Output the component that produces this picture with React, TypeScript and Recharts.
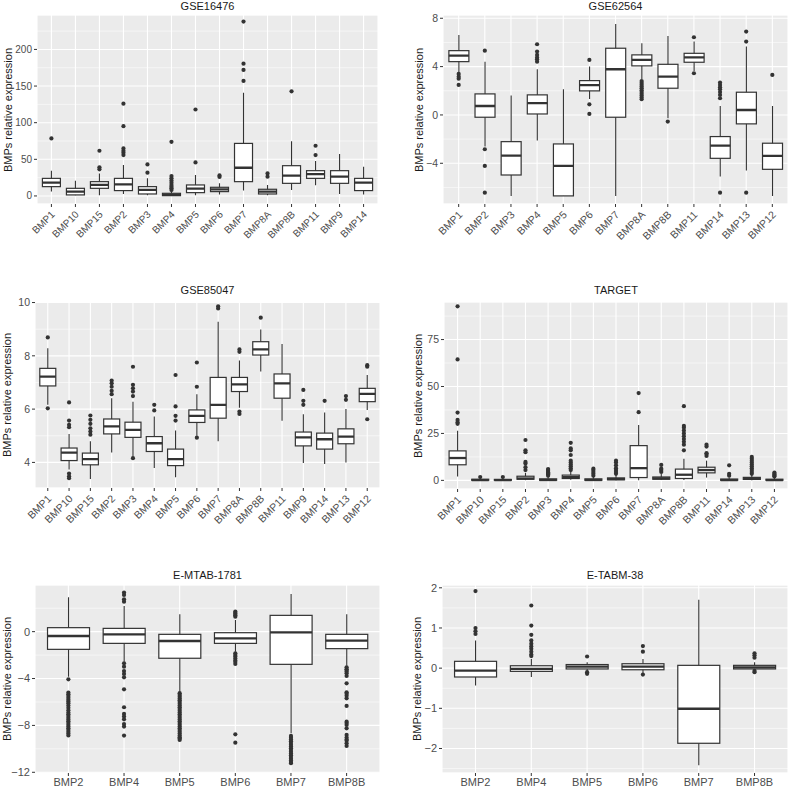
import { Bar, CartesianGrid, ComposedChart, Scatter, XAxis, YAxis } from 'recharts';

const INK = '#333333';
const TICK_TEXT = '#4D4D4D';
const PANEL_BG = '#EBEBEB';
const FONT = '"Liberation Sans", Arial, Helvetica, sans-serif';

// ---- GSE16476 ----
const GSE16476_GENES = ['BMP1', 'BMP10', 'BMP15', 'BMP2', 'BMP3', 'BMP4', 'BMP5', 'BMP6', 'BMP7', 'BMP8A', 'BMP8B', 'BMP11', 'BMP9', 'BMP14'];
const GSE16476_LOWER = [5.9, 0.9, 0.9, 2.7, 0.9, 0, 0.9, 1.8, 7.3, 1, 8.2, 14.5, 2.7, 1.8];
const GSE16476_Q1 = [12.7, 1.4, 10.4, 7.3, 2.7, 0.4, 4.5, 5.9, 19.5, 2.7, 17.2, 24, 17.2, 7.3];
const GSE16476_MEDIAN = [18.1, 5.9, 15, 15.9, 8.2, 1.4, 10, 9.1, 38.5, 5.9, 27.7, 29.9, 26.3, 18.1];
const GSE16476_Q3 = [24, 10.4, 19.5, 24, 12.7, 3.6, 15, 11.8, 71.7, 9.1, 41.3, 34.5, 34.5, 24];
const GSE16476_UPPER = [34.5, 20.9, 30.8, 42.2, 24, 5.9, 28.6, 17.2, 141, 15, 74.8, 47.6, 57.1, 39.9];
const GSE16476_OUTLIERS = [
  [78.5], [], [36.3, 39, 61.7], [55.8, 59, 61.7, 64.8, 95.2, 126], [31.7, 43],
  [8, 10.4, 12.5, 15, 18.1, 21, 24, 27.2, 73.9], [45.8, 118], [26, 28],
  [157, 172, 180.5, 238], [26.3, 30.8], [142.8], [55.8, 68.5], [], [],
];

// ---- GSE62564 ----
const GSE62564_GENES = ['BMP1', 'BMP2', 'BMP3', 'BMP4', 'BMP5', 'BMP6', 'BMP7', 'BMP8A', 'BMP8B', 'BMP11', 'BMP14', 'BMP13', 'BMP12'];
const GSE62564_LOWER = [3.53, -2.62, -6.7, -2.12, -6.7, 1.32, -6.7, 2.98, -0.28, 3.64, -5.1, -4.6, -6.7];
const GSE62564_Q1 = [4.41, -0.19, -4.97, 0.08, -6.7, 1.99, -0.19, 4.06, 2.21, 4.36, -3.59, -0.74, -4.5];
const GSE62564_MEDIAN = [4.9, 0.74, -3.37, 0.97, -4.22, 2.46, 3.78, 4.55, 3.17, 4.77, -2.54, 0.41, -3.39];
const GSE62564_Q3 = [5.32, 1.74, -2.21, 1.66, -2.4, 2.84, 5.52, 4.97, 4.19, 5.1, -1.79, 1.88, -2.34];
const GSE62564_UPPER = [6.62, 4.41, 1.6, 3.78, 2.12, 4.0, 7.53, 5.93, 6.54, 6.07, 0.74, 5.66, 0.74];
const GSE62564_OUTLIERS = [
  [2.48, 3.0, 3.17, 3.39], [5.32, -2.84, -4.22, -6.43], [], [4.41, 4.6, 4.75, 4.97, 5.24, 5.85], [],
  [4.55, 0.88, 0.08], [], [1.3, 1.45, 1.6, 1.75, 1.9, 2.05, 2.2, 2.35, 2.5, 2.65, 2.8], [-0.55],
  [6.43, 3.45], [1.38, 1.66, 1.9, 2.12, 2.29, 2.48, 2.68, -6.43], [6.07, 6.9, -6.43], [3.31],
];

// ---- GSE85047 ----
const GSE85047_GENES = ['BMP1', 'BMP10', 'BMP15', 'BMP2', 'BMP3', 'BMP4', 'BMP5', 'BMP6', 'BMP7', 'BMP8A', 'BMP8B', 'BMP11', 'BMP9', 'BMP14', 'BMP13', 'BMP12'];
const GSE85047_LOWER = [6.16, 3.73, 3.38, 4.37, 4.22, 3.79, 3.44, 5.0, 4.79, 6.05, 7.41, 5.56, 3.98, 3.94, 4.0, 5.97];
const GSE85047_Q1 = [6.87, 4.07, 3.91, 5.07, 4.94, 4.41, 3.88, 5.5, 5.66, 6.66, 8.03, 6.41, 4.62, 4.5, 4.7, 6.28];
const GSE85047_MEDIAN = [7.22, 4.37, 4.12, 5.35, 5.22, 4.72, 4.12, 5.75, 6.16, 6.93, 8.24, 6.97, 4.94, 4.87, 4.97, 6.57];
const GSE85047_Q3 = [7.53, 4.54, 4.35, 5.63, 5.51, 4.97, 4.5, 5.97, 7.19, 7.19, 8.53, 7.32, 5.14, 5.1, 5.26, 6.78];
const GSE85047_UPPER = [8.28, 5.07, 4.79, 6.41, 6.28, 5.72, 5.2, 6.56, 9.28, 7.82, 8.99, 8.44, 5.81, 5.87, 6.0, 7.28];
const GSE85047_OUTLIERS = [
  [8.69, 6.03], [6.25, 5.57, 5.41, 5.32, 3.58, 3.48, 3.41], [5.76, 5.6, 5.45, 5.28, 5.16, 5.04],
  [7.07, 6.97, 6.84, 6.69, 6.56], [7.59, 6.91, 6.78, 6.66, 6.49, 4.16], [6.16, 5.95],
  [7.28, 6.1, 5.75, 5.57], [7.75, 6.84, 4.93], [9.86, 9.78], [8.24, 8.15, 5.91, 5.82], [9.43], [],
  [6.72, 6.31, 6.16], [6.31], [6.49, 6.35], [7.65, 7.59, 5.62],
];

// ---- TARGET ----
const TARGET_GENES = ['BMP1', 'BMP10', 'BMP15', 'BMP2', 'BMP3', 'BMP4', 'BMP5', 'BMP6', 'BMP7', 'BMP8A', 'BMP8B', 'BMP11', 'BMP14', 'BMP13', 'BMP12'];
const TARGET_LOWER = [2.1, 0, 0, 0.1, 0, 0.3, 0, 0, 0, 0.2, 0.2, 1.5, 0, 0.1, 0];
const TARGET_Q1 = [8.3, 0.05, 0.05, 0.6, 0.05, 1.0, 0.05, 0.3, 1.5, 0.6, 1.0, 4.0, 0.05, 0.5, 0.05];
const TARGET_MEDIAN = [11.9, 0.15, 0.15, 1.0, 0.2, 1.7, 0.2, 0.7, 6.5, 1.1, 3.0, 5.5, 0.15, 1.0, 0.15];
const TARGET_Q3 = [15.7, 0.6, 0.5, 2.2, 0.8, 2.8, 0.8, 1.3, 18.5, 1.8, 6.0, 7.0, 0.7, 1.6, 0.6];
const TARGET_UPPER = [26.4, 1.2, 1.2, 4.0, 2.0, 4.5, 1.8, 2.8, 29.5, 3.5, 11.5, 10.5, 1.5, 3.0, 1.3];
const TARGET_OUTLIERS = [
  [30.1, 31, 32.2, 36.1, 64.4, 92.7], [1.8], [1.8], [5.5, 7, 9, 9.8, 15, 16, 21.5],
  [2.5, 3.2, 3.8, 4.3, 5, 5.5, 6], [5.5, 6.5, 7.5, 8.5, 9.5, 10.5, 13.5, 16, 17, 20],
  [2.5, 3.5, 4.5, 5.5, 6.2], [3.5, 4.5, 5.5, 6.5, 8, 9.5, 10.5], [36.3, 46.5], [4.5, 5.5, 6.2, 8.2],
  [16, 19, 20.5, 22, 23.5, 25, 26.5, 28, 29, 39.5], [13, 14, 14.5, 18, 19], [2.5, 3.5, 8],
  [3.5, 4.5, 5.5, 6.5, 7.5, 8.5, 9.5, 10.5, 11.5, 12.5], [2, 2.5, 3, 3.5, 4.2],
];

// ---- E-MTAB-1781 ----
const MTAB_GENES = ['BMP2', 'BMP4', 'BMP5', 'BMP6', 'BMP7', 'BMP8B'];
const MTAB_LOWER = [-3.84, -2.56, -5.12, -1.71, -8.67, -2.9];
const MTAB_Q1 = [-1.51, -1.0, -2.27, -1.0, -2.79, -1.45];
const MTAB_MEDIAN = [-0.37, -0.23, -0.8, -0.57, -0.06, -0.77];
const MTAB_Q3 = [0.34, 0.28, -0.23, -0.09, 1.39, -0.23];
const MTAB_UPPER = [2.93, 2.19, 1.48, 1.0, 3.21, 1.48];
const MTAB_OUTLIERS = [
  [-4.07, -5.2, -5.35, -5.5, -5.65, -5.8, -5.95, -6.1, -6.3, -6.5, -6.7, -6.9, -7.05, -7.2, -7.35, -7.5, -7.65, -7.8, -7.95, -8.1, -8.25, -8.4, -8.55, -8.7, -8.85],
  [3.33, 3.13, 2.76, 2.56, -2.7, -2.99, -3.36, -3.61, -3.9, -4.92, -6.45, -7.02, -7.25, -7.48, -7.88, -8.1, -8.87],
  [-5.25, -5.4, -5.55, -5.7, -5.85, -6.0, -6.15, -6.3, -6.45, -6.6, -6.75, -6.9, -7.05, -7.2, -7.35, -7.5, -7.65, -7.8, -7.95, -8.1, -8.25, -8.4, -8.55, -8.7, -8.85, -9.0, -9.12, -9.24],
  [1.71, 1.6, 1.51, 1.4, 1.28, -1.85, -2.0, -2.13, -2.3, -2.47, -2.6, -2.76, -8.76, -9.47],
  [-8.9, -9.05, -9.2, -9.35, -9.5, -9.65, -9.8, -9.95, -10.1, -10.25, -10.4, -10.55, -10.7, -10.85, -11.0, -11.12, -11.23],
  [-3.04, -3.2, -3.27, -3.4, -3.55, -3.78, -4.41, -5.17, -5.3, -5.46, -5.69, -6.34, -7.68, -7.8, -7.96, -8.25, -8.81, -9.04, -9.2, -9.3, -9.53, -9.75],
];

// ---- E-TABM-38 ----
const TABM_GENES = ['BMP2', 'BMP4', 'BMP5', 'BMP6', 'BMP7', 'BMP8B'];
const TABM_LOWER = [-0.43, -0.22, -0.07, -0.12, -2.42, -0.06];
const TABM_Q1 = [-0.22, -0.08, -0.02, -0.04, -1.87, -0.02];
const TABM_MEDIAN = [-0.06, -0.02, 0.04, 0.04, -1.01, 0.02];
const TABM_Q3 = [0.17, 0.06, 0.09, 0.11, 0.07, 0.07];
const TABM_UPPER = [0.69, 0.23, 0.15, 0.23, 1.7, 0.15];
const TABM_OUTLIERS = [
  [1.92, 1.0, 0.92, 0.85], [1.56, 1.06, 0.83, 0.69, 0.61, 0.54, 0.48, 0.41, 0.34, 0.3],
  [0.29, -0.1, -0.14], [0.55, 0.41, -0.16], [], [0.37, 0.32, 0.26, -0.07, -0.1],
];

interface PanelSpec {
  title: string;
  genes: string[];
  lower: number[];
  q1: number[];
  median: number[];
  q3: number[];
  upper: number[];
  outliers: number[][];
  domain: [number, number];
  ticks: number[];
  minorTicks: number[];
  left: number;
  top: number;
  width: number;
  height: number;
  plotTop: number;
  plotRight: number;
  axisWidth: number;
  axisHeight: number;
  titleY: number;
  labelX: number;
  slanted: boolean;
  tickFont: number;
}

const PANELS: PanelSpec[] = [
  {
    title: 'GSE16476', genes: GSE16476_GENES, lower: GSE16476_LOWER, q1: GSE16476_Q1, median: GSE16476_MEDIAN,
    q3: GSE16476_Q3, upper: GSE16476_UPPER, outliers: GSE16476_OUTLIERS,
    domain: [-11, 247], ticks: [0, 50, 100, 150, 200], minorTicks: [25, 75, 125, 175, 225],
    left: 0, top: 0, width: 394, height: 270, plotTop: 15, plotRight: 16, axisWidth: 37, axisHeight: 66,
    titleY: 6, labelX: 8, slanted: true, tickFont: 10,
  },
  {
    title: 'GSE62564', genes: GSE62564_GENES, lower: GSE62564_LOWER, q1: GSE62564_Q1, median: GSE62564_MEDIAN,
    q3: GSE62564_Q3, upper: GSE62564_UPPER, outliers: GSE62564_OUTLIERS,
    domain: [-7.37, 8.27], ticks: [-4, 0, 4, 8], minorTicks: [-6, -2, 2, 6],
    left: 394, top: 0, width: 394, height: 270, plotTop: 15, plotRight: 0, axisWidth: 49, axisHeight: 66,
    titleY: 6, labelX: 25, slanted: true, tickFont: 10.5,
  },
  {
    title: 'GSE85047', genes: GSE85047_GENES, lower: GSE85047_LOWER, q1: GSE85047_Q1, median: GSE85047_MEDIAN,
    q3: GSE85047_Q3, upper: GSE85047_UPPER, outliers: GSE85047_OUTLIERS,
    domain: [3.04, 10.02], ticks: [4, 6, 8, 10], minorTicks: [5, 7, 9],
    left: 0, top: 270, width: 394, height: 270, plotTop: 32, plotRight: 14, axisWidth: 35, axisHeight: 52,
    titleY: 20, labelX: 7, slanted: true, tickFont: 10.5,
  },
  {
    title: 'TARGET', genes: TARGET_GENES, lower: TARGET_LOWER, q1: TARGET_Q1, median: TARGET_MEDIAN,
    q3: TARGET_Q3, upper: TARGET_UPPER, outliers: TARGET_OUTLIERS,
    domain: [-4.6, 95], ticks: [0, 25, 50, 75], minorTicks: [12.5, 37.5, 62.5, 87.5],
    left: 394, top: 270, width: 394, height: 270, plotTop: 32, plotRight: 0, axisWidth: 50, axisHeight: 51,
    titleY: 20, labelX: 24, slanted: true, tickFont: 10.5,
  },
  {
    title: 'E-MTAB-1781', genes: MTAB_GENES, lower: MTAB_LOWER, q1: MTAB_Q1, median: MTAB_MEDIAN,
    q3: MTAB_Q3, upper: MTAB_UPPER, outliers: MTAB_OUTLIERS,
    domain: [-12.06, 3.98], ticks: [-12, -8, -4, 0], minorTicks: [-10, -6, -2, 2],
    left: 0, top: 540, width: 394, height: 248, plotTop: 45, plotRight: 14, axisWidth: 35, axisHeight: 15,
    titleY: 35, labelX: 7, slanted: false, tickFont: 11,
  },
  {
    title: 'E-TABM-38', genes: TABM_GENES, lower: TABM_LOWER, q1: TABM_Q1, median: TABM_MEDIAN,
    q3: TABM_Q3, upper: TABM_UPPER, outliers: TABM_OUTLIERS,
    domain: [-2.61, 2.07], ticks: [-2, -1, 0, 1, 2], minorTicks: [-2.5, -1.5, -0.5, 0.5, 1.5],
    left: 394, top: 540, width: 394, height: 248, plotTop: 45, plotRight: 0, axisWidth: 48, axisHeight: 15,
    titleY: 35, labelX: 23, slanted: false, tickFont: 11,
  },
];

// ggplot prints negative numbers with a real minus sign
const formatTick = (v: number) => (v < 0 ? `\u2212${Math.abs(v)}` : `${v}`);

function WhiskerShape(props: any) {
  const { x, y, width, height } = props;
  const top = Math.min(y, y + height);
  const cx = x + width / 2;
  return <line x1={cx} x2={cx} y1={top} y2={top + Math.abs(height)} stroke={INK} strokeWidth={1.1} />;
}

function BoxShape(props: any) {
  const { x, y, width, height } = props;
  const top = Math.min(y, y + height);
  return <rect x={x} y={top} width={width} height={Math.abs(height)} fill="#FFFFFF" stroke={INK} strokeWidth={1.2} />;
}

// the median bar spans q1..median, so its upper edge is the median
function MedianShape(props: any) {
  const { x, y, width, height } = props;
  const top = Math.min(y, y + height);
  return <line x1={x} x2={x + width} y1={top} y2={top} stroke={INK} strokeWidth={2.3} />;
}

function OutlierDot(props: any) {
  return <circle cx={props.cx} cy={props.cy} r={2.1} fill={INK} />;
}

function SlantTick(props: any) {
  const { x, y, payload, size } = props;
  const ax = x - 1;
  const ay = y + 1;
  return (
    <text x={ax} y={ay} dy="0.72em" textAnchor="end" fill={TICK_TEXT} fontSize={size} transform={`rotate(-45 ${ax} ${ay})`}>
      {payload.value}
    </text>
  );
}

function FlatTick(props: any) {
  const { x, y, payload, size } = props;
  return (
    <text x={x} y={y} dy="0.71em" textAnchor="middle" fill={TICK_TEXT} fontSize={size}>
      {payload.value}
    </text>
  );
}

function BoxPanel({ spec }: { spec: PanelSpec }) {
  const n = spec.genes.length;
  const rows = spec.genes.map((name, i) => ({
    name,
    lower: spec.lower[i],
    q1: spec.q1[i],
    median: spec.median[i],
    q3: spec.q3[i],
    upper: spec.upper[i],
  }));
  const points = spec.outliers.flatMap((vals, i) => vals.map((v) => ({ x: i, y: v })));
  const positions = spec.genes.map((_, i) => i);

  const plotWidth = spec.width - spec.axisWidth - spec.plotRight;
  const plotHeight = spec.height - spec.plotTop - spec.axisHeight;
  // discrete scale expanded by 0.6 of a step on both sides
  const pad = (plotWidth * 0.1) / (n + 0.2);
  const catPadding = { left: pad, right: pad };

  return (
    <div style={{ position: 'absolute', left: spec.left, top: spec.top, width: spec.width, height: spec.height }}>
      <ComposedChart
        width={spec.width}
        height={spec.height}
        data={rows}
        margin={{ top: spec.plotTop, right: spec.plotRight, bottom: 0, left: 0 }}
        barCategoryGap="12.5%"
      >
        <XAxis xAxisId="pts" type="number" dataKey="x" domain={[-0.6, n - 0.4]} ticks={positions} allowDataOverflow hide />
        <XAxis xAxisId="w" dataKey="name" padding={catPadding} hide />
        <XAxis xAxisId="m" dataKey="name" padding={catPadding} hide />
        <XAxis
          xAxisId="cat"
          dataKey="name"
          padding={catPadding}
          height={spec.axisHeight}
          interval={0}
          axisLine={false}
          tickSize={3}
          tickMargin={2}
          tickLine={{ stroke: INK }}
          tick={(p: any) => (spec.slanted ? <SlantTick {...p} size={spec.tickFont} /> : <FlatTick {...p} size={spec.tickFont} />)}
        />
        <YAxis yAxisId="minor" type="number" domain={spec.domain} ticks={spec.minorTicks} allowDataOverflow hide />
        <YAxis
          yAxisId="main"
          type="number"
          domain={spec.domain}
          ticks={spec.ticks}
          allowDataOverflow
          interval={0}
          width={spec.axisWidth}
          axisLine={false}
          tickSize={3}
          tickMargin={2}
          tickLine={{ stroke: INK }}
          tick={{ fill: TICK_TEXT, fontSize: spec.tickFont }}
          tickFormatter={formatTick}
        />
        <CartesianGrid xAxisId="pts" yAxisId="minor" fill={PANEL_BG} fillOpacity={1} stroke="#FFFFFF" strokeWidth={0.55} vertical={false} />
        <CartesianGrid xAxisId="pts" yAxisId="main" stroke="#FFFFFF" strokeWidth={1.1} />
        <Bar xAxisId="w" yAxisId="main" dataKey={(d: any) => [d.lower, d.upper]} shape={WhiskerShape} isAnimationActive={false} />
        <Bar xAxisId="cat" yAxisId="main" dataKey={(d: any) => [d.q1, d.q3]} shape={BoxShape} isAnimationActive={false} />
        <Bar xAxisId="m" yAxisId="main" dataKey={(d: any) => [d.q1, d.median]} shape={MedianShape} isAnimationActive={false} />
        <Scatter xAxisId="pts" yAxisId="main" data={points} dataKey="y" shape={OutlierDot} isAnimationActive={false} />
      </ComposedChart>
      <div
        style={{
          position: 'absolute',
          left: spec.axisWidth,
          width: plotWidth,
          top: spec.titleY - 6,
          textAlign: 'center',
          fontSize: 11,
          lineHeight: '12px',
          color: '#1A1A1A',
        }}
      >
        {spec.title}
      </div>
      <div
        style={{
          position: 'absolute',
          left: spec.labelX - 100,
          top: spec.plotTop + plotHeight / 2 - 6,
          width: 200,
          height: 12,
          textAlign: 'center',
          fontSize: 11,
          lineHeight: '12px',
          whiteSpace: 'nowrap',
          color: '#1A1A1A',
          transform: 'rotate(-90deg)',
        }}
      >
        BMPs relative expression
      </div>
    </div>
  );
}

export default function App() {
  return (
    <div style={{ position: 'absolute', left: 0, top: 0, width: 788, height: 788, background: '#FFFFFF', fontFamily: FONT }}>
      {PANELS.map((spec) => (
        <BoxPanel key={spec.title} spec={spec} />
      ))}
    </div>
  );
}
